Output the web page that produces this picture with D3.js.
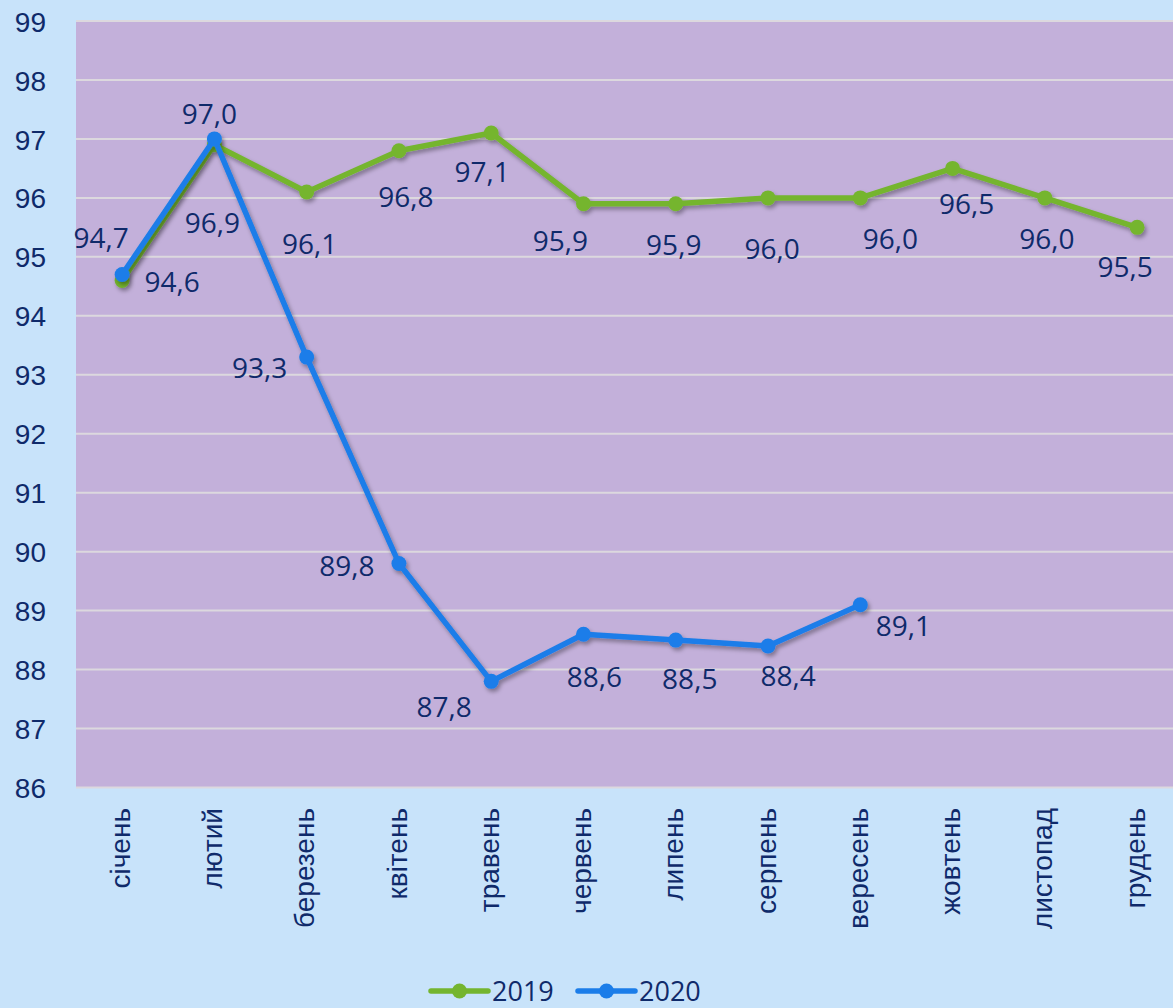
<!DOCTYPE html>
<html lang="uk">
<head>
    <meta charset="utf-8">
    <title>2019 / 2020</title>
    <script src="https://d3js.org/d3.v7.min.js" charset="utf-8"></script>
    <style type="text/css">
        html, body
        {
            margin: 0;
            padding: 0;
            background-color: #c8e3fa;
        }
        svg
        {
            display: block;
            font-family: "Open Sans", "Noto Sans", sans-serif;
        }
        .lbl
        {
            fill: #0f2a6a;
            font-size: 28px;
        }
        .leg
        {
            fill: #0f2a6a;
            font-size: 27px;
        }
    </style>
</head>
<body>
    <div id="chart_div"></div>
    <script>
    "use strict";

    // months
    var months = ["січень", "лютий", "березень", "квітень", "травень", "червень",
                  "липень", "серпень", "вересень", "жовтень", "листопад", "грудень"];
    var values2019 = [94.6, 96.9, 96.1, 96.8, 97.1, 95.9, 95.9, 96.0, 96.0, 96.5, 96.0, 95.5];
    var values2020 = [94.7, 97.0, 93.3, 89.8, 87.8, 88.6, 88.5, 88.4, 89.1];
    var yTicks = [86, 87, 88, 89, 90, 91, 92, 93, 94, 95, 96, 97, 98, 99];
    var seriesNames = ["2019", "2020"];

    // where each data label sits, relative to its point (px)
    var offsets2019 = [[50, 1], [-2, 78], [3, 52], [7, 46], [-9, 39], [-23, 37],
                       [-2, 41], [4, 51], [30, 41], [14, 36], [2, 41], [-12, 40]];
    var offsets2020 = [[-21, -37], [-5, -25], [-47, 11], [-52, 2], [-47, 26],
                       [11, 43], [14, 39], [20, 30], [43, 21]];

    var svg_width = 1173;
    var svg_height = 1008;
    var plot_left = 76;
    var plot_top = 21;
    var plot_bottom = 787.5;
    var green = "#74b52f";
    var blue = "#1b7de9";

    var svg = d3.select("#chart_div")
        .append("svg")
        .attr("width", svg_width)
        .attr("height", svg_height);

    var defs = svg.append("defs");
    defs.append("filter")
        .attr("id", "shadow")
        .attr("x", "-10%").attr("y", "-10%")
        .attr("width", "120%").attr("height", "120%")
        .append("feDropShadow")
        .attr("dx", 2).attr("dy", 3)
        .attr("stdDeviation", 2)
        .attr("flood-color", "#000")
        .attr("flood-opacity", 0.35);

    var xscale = d3.scaleBand()
        .domain(months)
        .range([plot_left, plot_left + 12 * 92.27]);
    var yscale = d3.scaleLinear()
        .domain([86, 99])
        .range([plot_bottom, plot_top]);

    function cx(i)
    {
        return xscale(months[i]) + xscale.bandwidth() / 2;
    }

    var comma = d3.formatLocale({decimal: ",", thousands: " ", grouping: [3], currency: ["", ""]}).format(".1f");

    // plot area
    svg.append("rect")
        .attr("x", plot_left)
        .attr("y", plot_top - 1)
        .attr("width", svg_width - plot_left)
        .attr("height", plot_bottom - plot_top + 1)
        .attr("fill", "#c3b0da");

    // gridlines
    svg.append("g")
        .selectAll("line")
        .data(yTicks)
        .enter()
        .append("line")
        .attr("x1", plot_left)
        .attr("x2", svg_width)
        .attr("y1", function(d) { return yscale(d); })
        .attr("y2", function(d) { return yscale(d); })
        .attr("stroke", "#dcd8de")
        .attr("stroke-width", 2);

    // y axis
    var yaxis = d3.axisLeft(yscale).tickValues(yTicks).tickSize(0).tickPadding(0);
    var yg = svg.append("g")
        .attr("transform", "translate(46,0)")
        .call(yaxis);
    yg.select(".domain").remove();
    yg.selectAll("text")
        .attr("class", "lbl")
        .attr("dy", "0.36em")
        .attr("font-family", null)
        .attr("font-size", null);

    // x axis, labels turned
    var xaxis = d3.axisBottom(xscale).tickSize(0).tickPadding(0);
    var xg = svg.append("g")
        .attr("transform", "translate(0,808)")
        .call(xaxis);
    xg.select(".domain").remove();
    xg.selectAll("text")
        .attr("class", "lbl")
        .attr("font-family", null)
        .attr("font-size", null)
        .attr("text-anchor", "end")
        .attr("transform", "rotate(-90)")
        .attr("x", 0)
        .attr("y", 0)
        .attr("dy", "0.27em");

    var line = d3.line()
        .x(function(d, i) { return cx(i); })
        .y(function(d) { return yscale(d); });

    function drawSeries(vals, color)
    {
        var g = svg.append("g").attr("filter", "url(#shadow)");
        g.append("path")
            .datum(vals)
            .attr("d", line)
            .attr("fill", "none")
            .attr("stroke", color)
            .attr("stroke-width", 5.5)
            .attr("stroke-linejoin", "round");
        g.selectAll("circle")
            .data(vals)
            .enter()
            .append("circle")
            .attr("cx", function(d, i) { return cx(i); })
            .attr("cy", function(d) { return yscale(d); })
            .attr("r", 7.5)
            .attr("fill", color);
    }

    function drawLabels(vals, offs)
    {
        svg.append("g")
            .selectAll("text")
            .data(vals)
            .enter()
            .append("text")
            .attr("class", "lbl")
            .attr("text-anchor", "middle")
            .attr("x", function(d, i) { return cx(i) + offs[i][0]; })
            .attr("y", function(d, i) { return yscale(d) + offs[i][1]; })
            .attr("dy", "0.36em")
            .text(function(d) { return comma(d); });
    }

    drawSeries(values2019, green);
    drawSeries(values2020, blue);
    drawLabels(values2019, offsets2019);
    drawLabels(values2020, offsets2020);

    // legend
    var legend = svg.append("g").attr("transform", "translate(0,991)");
    var legendItems = [[seriesNames[0], green, 431], [seriesNames[1], blue, 578]];
    legendItems.forEach(function(it)
    {
        var lg = legend.append("g").attr("transform", "translate(" + it[2] + ",0)");
        lg.append("line")
            .attr("x1", 0).attr("x2", 57)
            .attr("y1", 0).attr("y2", 0)
            .attr("stroke", it[1])
            .attr("stroke-width", 5.5)
            .attr("stroke-linecap", "round");
        lg.append("circle")
            .attr("cx", 28.5).attr("cy", 0)
            .attr("r", 7.5)
            .attr("fill", it[1]);
        lg.append("text")
            .attr("class", "leg")
            .attr("x", 61)
            .attr("dy", "0.36em")
            .text(it[0]);
    });
    </script>
</body>
</html>
